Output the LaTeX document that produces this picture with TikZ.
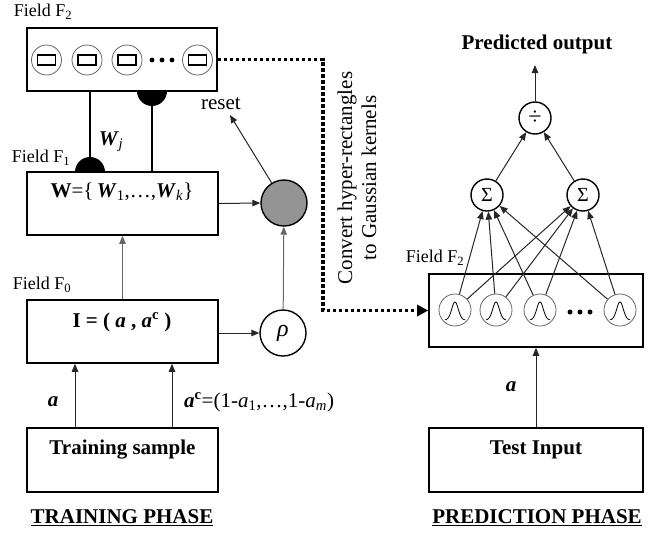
\documentclass[tikz,border=0pt]{standalone}
\usepackage{fontspec}
\setmainfont{Liberation Serif}
\usetikzlibrary{arrows.meta}

\tikzset{
  box/.style={draw, line width=1.6pt, fill=white, minimum width=191pt,
              minimum height=63pt, inner sep=0pt},
  unit/.style={circle, draw, line width=1.4pt, minimum size=32pt, inner sep=0pt,
               font=\fontsize{20}{24}\selectfont},
  cell/.style={circle, draw=black!60, line width=0.8pt, minimum size=30pt, inner sep=0pt},
  kern/.style={circle, draw=black!60, line width=0.8pt, minimum size=32pt, inner sep=0pt},
  arr/.style={line width=1pt, draw=black!85, -{Triangle[length=8pt,width=6.5pt]}},
  txt/.style={font=\fontsize{21}{24}\selectfont, inner sep=0pt},
  fieldlbl/.style={font=\fontsize{18}{21}\selectfont, inner sep=0pt},
  blob/.style={circle, fill=black, minimum size=30pt, inner sep=0pt},
  conv/.style={line width=3.5pt, dash pattern=on 3.5pt off 2.5pt},
  wire/.style={line width=1.2pt},
}

\begin{document}
\begin{tikzpicture}[x=1pt, y=-1pt]
\useasboundingbox (0,0) rectangle (658,536);

% ---------------- training phase ----------------
% weight junctions (half hidden behind the boxes)
\node[blob] (w1) at (90,172) {};
\node[blob] (w2) at (152,91) {};

\node[box, minimum width=190pt] (f2box) at (122,59.5) {};
\node[box] (f1box) at (122.5,203.5) {};
\node[box] (f0box) at (122.5,331.5) {};
\node[box, minimum height=64pt] (train) at (122.5,460) {};

% category cells in F2
\foreach \n/\cx in {c1/46.5, c2/87, c3/127, c4/197.5}{
  \node[cell] (\n) at (\cx,60) {};
  \draw[line width=1.5pt] (\cx,60) ++(-9,-5) rectangle ++(18,10);
}
\foreach \dx in {152,162,172} \fill (\dx,60) circle[radius=2.4];

\node[fieldlbl] (lf2) at (43,12) {Field F\textsubscript{2}};
\node[fieldlbl] (lf1) at (41,158) {Field F\textsubscript{1}};
\node[fieldlbl] (lf0) at (42,285) {Field F\textsubscript{0}};

\node[txt] (wtxt) at (122,192) {\textbf{W}=\{\,\textbf{\textit{W}}\textsubscript{1},…,\textbf{\textit{W}}\textsubscript{\textit{k}}\}};
\node[txt] (itxt) at (122,322) {\textbf{I = ( \textit{a} , \textit{a}\textsuperscript{c} )}};
\node[txt] (trtxt) at (122.5,450) {\textbf{Training sample}};

\node[txt] (wj) at (111,142) {\textbf{\textit{W}}\textsubscript{\textit{j}}};

\draw[wire] (w1) -- (w1 |- f2box.south);
\draw[wire] (w2) -- (w2 |- f1box.north);

\node[circle, draw, line width=1.4pt, fill=black!42, minimum size=46pt, inner sep=0pt] (gray) at (284,203) {};
\node[unit, minimum size=46pt, font=\fontsize{24}{26}\selectfont] (rho) at (283,333) {\textit{ρ}};

\coordinate (resettip) at (230,115);
\node[txt] (reset) at (221,104) {reset};

\draw[arr] (f1box.east) -- (gray.west);
\draw[arr] (f0box.east |- rho) -- (rho);
\draw[arr, draw=black!60] (rho) -- (gray);
\draw[arr] (gray) -- (resettip);
\draw[arr, draw=black!60] (f0box) -- (f1box);
\draw[arr] ([xshift=-47.5pt]train.north) -- ([xshift=-47.5pt]f0box.south);
\draw[arr] ([xshift=49.5pt]train.north) -- ([xshift=49.5pt]f0box.south);

\node[txt] (alab) at (53,402) {\textbf{\textit{a}}};
\node[txt, anchor=west] (aclab) at (184,402) {\textbf{\textit{a}\textsuperscript{c}}=(1-\textit{a}\textsubscript{1},…,1-\textit{a}\textsubscript{\textit{m}})};

\node[txt] (trphase) at (122,518) {\textbf{\underline{TRAINING PHASE}}};

% ---------------- conversion ----------------
\coordinate (bendA) at (323,59.5);
\coordinate (bendB) at (323,310.5);
\node[txt, rotate=90, align=center] (convtxt) at (357,178) {Convert hyper-rectangles\\to Gaussian kernels};

% ---------------- prediction phase ----------------
\node[box, minimum width=214pt, minimum height=73pt] (pf2) at (536,310.5) {};
\node[box, minimum width=214pt, minimum height=64pt] (test) at (536,460) {};

\draw[conv, -{Triangle[length=11pt,width=11pt]}] (f2box.east) -- (bendA) -- (bendB) -- (pf2.west);

\foreach \n/\cx in {g1/455, g2/496, g3/540, g4/620}{
  \node[kern] (\n) at (\cx,310) {};
  \draw[line width=0.8pt] plot[domain=-10:10, samples=41, smooth]
    ({\cx+\x}, {320-18*exp(-\x*\x/22)});
}
\foreach \dx in {570,580,590} \fill (\dx,312) circle[radius=2.5];

\node[fieldlbl] (lpf2) at (435,258) {Field F\textsubscript{2}};

\node[unit] (s1) at (487,195) {Σ};
\node[unit] (s2) at (583,195) {Σ};
\node[unit, font=\fontsize{24}{26}\selectfont] (div) at (535,118) {÷};
\coordinate (outtip) at (535,65);

\foreach \g in {g1,g2,g3,g4}{
  \draw[arr] (\g) -- (s1);
  \draw[arr] (\g) -- (s2);
}
\draw[arr] (s1) -- (div);
\draw[arr] (s2) -- (div);
\draw[arr] (div) -- (outtip);

\node[txt] (predout) at (537,44) {\textbf{Predicted output}};
\node[txt] (tstxt) at (536,450) {\textbf{Test Input}};
\draw[arr] (test) -- (pf2);
\node[txt] (alab2) at (511,387) {\textbf{\textit{a}}};

\node[txt] (prphase) at (537,518) {\textbf{\underline{PREDICTION PHASE}}};
\end{tikzpicture}
\end{document}
